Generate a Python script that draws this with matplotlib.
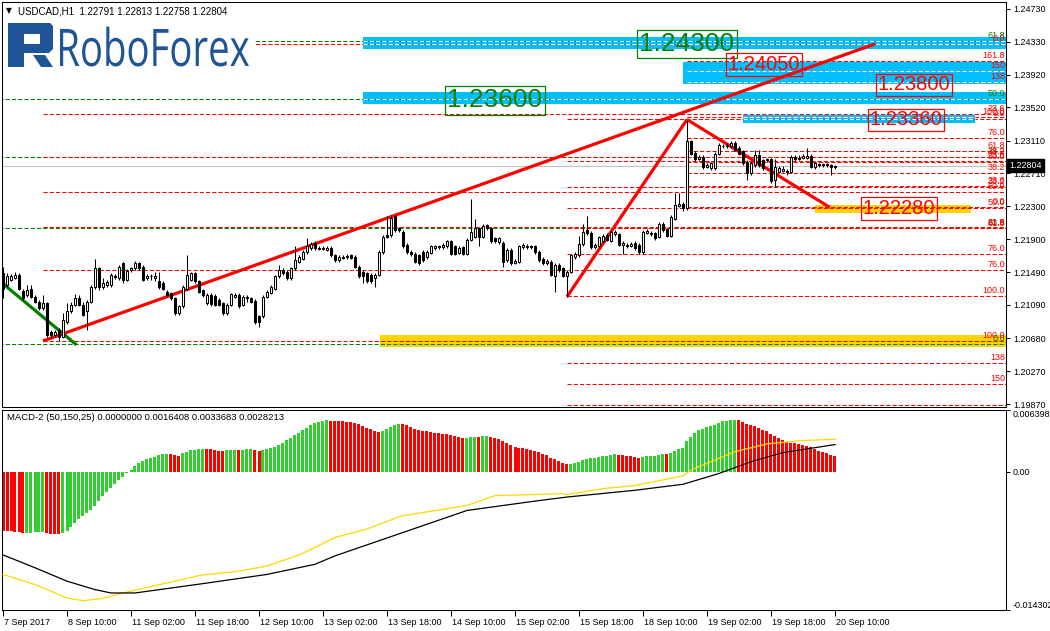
import numpy as np
import matplotlib.pyplot as plt
from matplotlib.patches import Rectangle, Polygon, PathPatch
from matplotlib.textpath import TextPath
from matplotlib.font_manager import FontProperties
from matplotlib.transforms import Affine2D, ScaledTranslation, blended_transform_factory

plt.rcParams['font.family'] = ['Liberation Sans', 'DejaVu Sans']

# USDCAD H1, bar 0 = 7 Sep 2017 18:00
opens = [
    1.2148, 1.2133, 1.2140, 1.2142, 1.2146, 1.2126, 1.2121, 1.2129, 1.2119, 1.2113,
    1.2105, 1.2111, 1.2076, 1.2072, 1.2078, 1.2070, 1.2088, 1.2101, 1.2109, 1.2117,
    1.2109, 1.2101, 1.2113, 1.2131, 1.2154, 1.2131, 1.2133, 1.2133, 1.2144, 1.2142,
    1.2160, 1.2140, 1.2152, 1.2154, 1.2160, 1.2156, 1.2142, 1.2145, 1.2142, 1.2138,
    1.2136, 1.2125, 1.2123, 1.2117, 1.2099, 1.2107, 1.2129, 1.2140, 1.2148, 1.2138,
    1.2127, 1.2111, 1.2121, 1.2120, 1.2115, 1.2111, 1.2099, 1.2109, 1.2119, 1.2121,
    1.2109, 1.2117, 1.2117, 1.2114, 1.2095, 1.2095, 1.2119, 1.2124, 1.2129, 1.2144,
    1.2152, 1.2150, 1.2142, 1.2154, 1.2162, 1.2166, 1.2174, 1.2179, 1.2185, 1.2179,
    1.2178, 1.2177, 1.2179, 1.2170, 1.2164, 1.2168, 1.2168, 1.2170, 1.2168, 1.2156,
    1.2150, 1.2148, 1.2146, 1.2142, 1.2146, 1.2174, 1.2195, 1.2195, 1.2218, 1.2203,
    1.2199, 1.2183, 1.2174, 1.2172, 1.2170, 1.2174, 1.2168, 1.2173, 1.2179, 1.2181,
    1.2180, 1.2181, 1.2187, 1.2181, 1.2173, 1.2180, 1.2172, 1.2189, 1.2193, 1.2203,
    1.2193, 1.2207, 1.2203, 1.2191, 1.2186, 1.2185, 1.2164, 1.2177, 1.2161, 1.2162,
    1.2180, 1.2181, 1.2180, 1.2181, 1.2174, 1.2166, 1.2160, 1.2162, 1.2144, 1.2158,
    1.2154, 1.2145, 1.2150, 1.2168, 1.2170, 1.2184, 1.2201, 1.2198, 1.2180, 1.2181,
    1.2187, 1.2195, 1.2188, 1.2196, 1.2196, 1.2183, 1.2183, 1.2182, 1.2185, 1.2183,
    1.2174, 1.2198, 1.2198, 1.2197, 1.2193, 1.2209, 1.2202, 1.2194, 1.2215, 1.2231,
    1.2233, 1.2228, 1.2310, 1.2296, 1.2289, 1.2291, 1.2279, 1.2277, 1.2277, 1.2295,
    1.2304, 1.2304, 1.2304, 1.2308, 1.2302, 1.2298, 1.2285, 1.2271, 1.2281, 1.2293,
    1.2287, 1.2287, 1.2288, 1.2263, 1.2273, 1.2274, 1.2274, 1.2273, 1.2291, 1.2289,
    1.2290, 1.2290, 1.2292, 1.2278, 1.2282, 1.2281, 1.2282, 1.2281, 1.22791,
]
highs = [
    1.2156, 1.2148, 1.2147, 1.2150, 1.2148, 1.2129, 1.2133, 1.2133, 1.2121, 1.2115,
    1.2121, 1.2113, 1.2078, 1.2078, 1.2080, 1.2099, 1.2111, 1.2113, 1.2122, 1.2121,
    1.2113, 1.2115, 1.2133, 1.2166, 1.2156, 1.2142, 1.2140, 1.2148, 1.2147, 1.2158,
    1.2162, 1.2153, 1.2156, 1.2163, 1.2162, 1.2158, 1.2147, 1.2147, 1.2150, 1.2150,
    1.2138, 1.2127, 1.2125, 1.2119, 1.2109, 1.2133, 1.2170, 1.2150, 1.2150, 1.2140,
    1.2129, 1.2123, 1.2123, 1.2122, 1.2117, 1.2113, 1.2111, 1.2124, 1.2124, 1.2123,
    1.2121, 1.2121, 1.2119, 1.2116, 1.2097, 1.2121, 1.2127, 1.2133, 1.2146, 1.2158,
    1.2154, 1.2152, 1.2156, 1.2181, 1.2170, 1.2176, 1.2191, 1.2186, 1.2187, 1.2181,
    1.2181, 1.2182, 1.2181, 1.2172, 1.2170, 1.2170, 1.2172, 1.2172, 1.2170, 1.2158,
    1.2152, 1.2150, 1.2148, 1.2148, 1.2176, 1.2195, 1.2218, 1.2220, 1.2220, 1.2205,
    1.2201, 1.2185, 1.2176, 1.2174, 1.2172, 1.2176, 1.2176, 1.2183, 1.2183, 1.2183,
    1.2185, 1.2189, 1.2189, 1.2183, 1.2181, 1.2182, 1.2191, 1.2239, 1.2215, 1.2205,
    1.2208, 1.2209, 1.2205, 1.2193, 1.2193, 1.2187, 1.2179, 1.2179, 1.2165, 1.2183,
    1.2185, 1.2184, 1.2183, 1.2183, 1.2176, 1.2168, 1.2165, 1.2164, 1.2160, 1.2160,
    1.2156, 1.2152, 1.2172, 1.2174, 1.2194, 1.2209, 1.2218, 1.2200, 1.2185, 1.2194,
    1.2196, 1.2197, 1.2201, 1.2201, 1.2198, 1.2187, 1.2185, 1.2186, 1.2187, 1.2185,
    1.2201, 1.2202, 1.2200, 1.2199, 1.2211, 1.2211, 1.2204, 1.2219, 1.2246, 1.2246,
    1.2235, 1.2337, 1.2312, 1.2298, 1.2293, 1.2293, 1.2283, 1.2285, 1.2297, 1.2308,
    1.2307, 1.2308, 1.2310, 1.2310, 1.2304, 1.2300, 1.2287, 1.2285, 1.2299, 1.2299,
    1.2289, 1.2290, 1.2290, 1.2289, 1.2280, 1.2280, 1.2276, 1.2293, 1.2293, 1.2293,
    1.2294, 1.2302, 1.2294, 1.2285, 1.2284, 1.2284, 1.2284, 1.2282, 1.22813,
]
lows = [
    1.2117, 1.2131, 1.2138, 1.2141, 1.2127, 1.2115, 1.2119, 1.2117, 1.2111, 1.2103,
    1.2103, 1.2070, 1.2068, 1.2070, 1.2065, 1.2068, 1.2086, 1.2099, 1.2107, 1.2107,
    1.2095, 1.2078, 1.2111, 1.2129, 1.2127, 1.2129, 1.2131, 1.2131, 1.2141, 1.2140,
    1.2136, 1.2138, 1.2150, 1.2152, 1.2152, 1.2138, 1.2140, 1.2140, 1.2138, 1.2129,
    1.2127, 1.2119, 1.2115, 1.2097, 1.2097, 1.2105, 1.2127, 1.2138, 1.2136, 1.2123,
    1.2119, 1.2109, 1.2108, 1.2107, 1.2107, 1.2097, 1.2097, 1.2107, 1.2117, 1.2105,
    1.2107, 1.2113, 1.2111, 1.2086, 1.2082, 1.2093, 1.2117, 1.2122, 1.2127, 1.2142,
    1.2146, 1.2140, 1.2140, 1.2152, 1.2160, 1.2164, 1.2172, 1.2177, 1.2177, 1.2176,
    1.2176, 1.2175, 1.2168, 1.2162, 1.2162, 1.2165, 1.2166, 1.2165, 1.2154, 1.2142,
    1.2136, 1.2136, 1.2136, 1.2131, 1.2144, 1.2172, 1.2191, 1.2193, 1.2199, 1.2199,
    1.2179, 1.2172, 1.2169, 1.2160, 1.2158, 1.2162, 1.2166, 1.2171, 1.2177, 1.2178,
    1.2178, 1.2179, 1.2170, 1.2170, 1.2171, 1.2170, 1.2170, 1.2187, 1.2191, 1.2181,
    1.2191, 1.2201, 1.2185, 1.2185, 1.2184, 1.2156, 1.2162, 1.2158, 1.2159, 1.2160,
    1.2178, 1.2178, 1.2178, 1.2172, 1.2162, 1.2158, 1.2158, 1.2144, 1.2125, 1.2150,
    1.2143, 1.2119, 1.2148, 1.2166, 1.2168, 1.2182, 1.2195, 1.2178, 1.2178, 1.2179,
    1.2185, 1.2187, 1.2186, 1.2194, 1.2181, 1.2172, 1.2179, 1.2180, 1.2177, 1.2172,
    1.2172, 1.2196, 1.2194, 1.2189, 1.2191, 1.2199, 1.2192, 1.2192, 1.2213, 1.2229,
    1.2224, 1.2226, 1.2293, 1.2286, 1.2287, 1.2276, 1.2277, 1.2275, 1.2275, 1.2293,
    1.2302, 1.2302, 1.2302, 1.2298, 1.2293, 1.2281, 1.2263, 1.2269, 1.2279, 1.2279,
    1.2275, 1.2285, 1.2259, 1.2254, 1.2271, 1.2272, 1.2269, 1.2271, 1.2286, 1.2287,
    1.2288, 1.2288, 1.2277, 1.2276, 1.2279, 1.2279, 1.2279, 1.2269, 1.22758,
]
closes = [
    1.2129, 1.2145, 1.2145, 1.2146, 1.2129, 1.2117, 1.2127, 1.2119, 1.2113, 1.2105,
    1.2111, 1.2072, 1.2072, 1.2076, 1.2070, 1.2090, 1.2101, 1.2109, 1.2117, 1.2109,
    1.2097, 1.2113, 1.2131, 1.2154, 1.2131, 1.2136, 1.2137, 1.2146, 1.2143, 1.2156,
    1.2140, 1.2151, 1.2154, 1.2160, 1.2154, 1.2140, 1.2145, 1.2144, 1.2145, 1.2131,
    1.2129, 1.2121, 1.2117, 1.2099, 1.2107, 1.2131, 1.2146, 1.2148, 1.2138, 1.2125,
    1.2121, 1.2121, 1.2110, 1.2109, 1.2109, 1.2099, 1.2109, 1.2122, 1.2121, 1.2107,
    1.2119, 1.2119, 1.2113, 1.2088, 1.2088, 1.2119, 1.2125, 1.2131, 1.2144, 1.2152,
    1.2148, 1.2142, 1.2154, 1.2164, 1.2168, 1.2174, 1.2181, 1.2184, 1.2179, 1.2178,
    1.2179, 1.2179, 1.2170, 1.2164, 1.2168, 1.2167, 1.2169, 1.2167, 1.2156, 1.2144,
    1.2144, 1.2138, 1.2138, 1.2146, 1.2174, 1.2193, 1.2193, 1.2216, 1.2201, 1.2201,
    1.2181, 1.2174, 1.2171, 1.2162, 1.2160, 1.2164, 1.2174, 1.2181, 1.2181, 1.2180,
    1.2183, 1.2187, 1.2172, 1.2172, 1.2179, 1.2172, 1.2189, 1.2199, 1.2203, 1.2193,
    1.2206, 1.2203, 1.2187, 1.2187, 1.2191, 1.2162, 1.2177, 1.2160, 1.2163, 1.2181,
    1.2183, 1.2180, 1.2181, 1.2174, 1.2164, 1.2160, 1.2163, 1.2146, 1.2158, 1.2152,
    1.2145, 1.2150, 1.2170, 1.2172, 1.2184, 1.2199, 1.2197, 1.2180, 1.2183, 1.2192,
    1.2194, 1.2189, 1.2199, 1.2199, 1.2183, 1.2185, 1.2181, 1.2184, 1.2179, 1.2174,
    1.2199, 1.2200, 1.2196, 1.2191, 1.2209, 1.2201, 1.2194, 1.2217, 1.2232, 1.2233,
    1.2228, 1.2310, 1.2295, 1.2288, 1.2291, 1.2278, 1.2281, 1.2283, 1.2295, 1.2306,
    1.2304, 1.2306, 1.2308, 1.2300, 1.2295, 1.2283, 1.2271, 1.2283, 1.2293, 1.2281,
    1.2277, 1.2288, 1.2261, 1.2278, 1.2277, 1.2276, 1.2272, 1.2291, 1.2288, 1.2290,
    1.2292, 1.2292, 1.2279, 1.2283, 1.2281, 1.2282, 1.2281, 1.2279, 1.22804,
]

# MACD-2 histogram, units of 1e-4
macd_hist = [
    -60.95, -61.2, -61.65, -62.0, -62.69, -63.39, -63.04, -62.87, -62.69, -62.52,
    -62.35, -63.39, -64.09, -64.44, -64.78, -63.39, -60.95, -56.77, -52.59, -49.11,
    -45.63, -42.84, -39.36, -35.18, -30.30, -25.43, -21.25, -16.72, -12.19, -8.71,
    -4.88, -1.04, 2.09, 5.92, 9.40, 11.49, 12.89, 14.28, 15.67, 17.07,
    18.11, 18.46, 18.11, 17.07, 16.37, 19.16, 20.90, 22.29, 22.99, 23.34,
    23.51, 23.34, 23.16, 22.64, 21.94, 21.59, 22.29, 22.64, 22.81, 22.29,
    22.99, 23.16, 23.34, 22.64, 21.94, 22.29, 23.34, 24.38, 26.12, 28.21,
    30.30, 32.74, 35.18, 37.62, 40.05, 42.84, 45.28, 48.41, 50.50, 51.90,
    52.94, 53.29, 52.94, 52.77, 52.59, 52.25, 51.90, 51.20, 50.50, 49.46,
    47.72, 45.63, 43.89, 42.14, 41.10, 42.49, 44.23, 46.32, 48.41, 49.81,
    49.50, 48.76, 46.32, 44.58, 43.54, 42.49, 41.80, 41.45, 40.40, 39.71,
    39.36, 39.01, 38.31, 37.27, 36.22, 35.18, 35.35, 35.53, 36.22, 36.05,
    36.92, 37.27, 36.22, 35.18, 34.13, 32.04, 29.95, 27.86, 25.77, 25.08,
    24.73, 23.68, 22.64, 21.59, 20.55, 18.81, 17.42, 14.28, 13.24, 11.15,
    9.06, 8.01, 8.36, 9.40, 10.10, 12.19, 13.24, 13.93, 14.28, 15.33,
    16.02, 16.37, 17.42, 18.46, 17.76, 17.42, 16.72, 16.37, 15.33, 14.28,
    15.33, 16.02, 16.20, 16.37, 17.42, 18.46, 18.11, 19.50, 21.59, 23.68,
    24.73, 32.04, 36.22, 40.40, 43.54, 44.58, 46.67, 47.72, 48.76, 50.85,
    52.59, 52.94, 53.64, 53.99, 53.64, 51.90, 49.81, 48.07, 47.72, 45.63,
    43.54, 42.49, 39.36, 37.27, 35.18, 33.09, 31.35, 30.30, 29.95, 28.91,
    27.86, 26.82, 25.77, 23.68, 21.94, 20.55, 19.50, 17.76, 16.41,
]
# MACD-2 lines, read at a few bars (units of 1e-4)
black_bars = [0, 8, 16, 23, 27, 33, 49.5, 66, 78, 83, 99.5, 116, 133, 141, 158, 170, 179, 187, 195, 208]
black_vals = [-86.0, -99.3, -113.2, -121.9, -125.4, -125.4, -116.0, -106.2, -95.7, -87.0,
              -63.5, -40.0, -30.3, -26.1, -19.1, -12.9, -1.7, 10.5, 19.9, 28.2]
yellow_bars = [0, 8, 16, 20, 24.5, 30, 41, 49.5, 58, 66, 74.5, 83, 91, 99.5, 116, 123,
               139.5, 141, 150, 158, 170, 172, 183, 191, 200, 208]
yellow_vals = [-106.2, -116.7, -130.6, -133.4, -131.3, -125.4, -115.0, -107.0, -103.4, -97.5,
               -85.3, -67.9, -59.2, -45.8, -34.8, -24.7, -22.6, -23.6, -17.4, -14.2,
               -4.2, 1.8, 20.9, 28.9, 32.4, 33.7]

tick_bars = list(range(0, 209, 16))
tick_labels = ['7 Sep 2017', '8 Sep 10:00', '11 Sep 02:00', '11 Sep 18:00', '12 Sep 10:00',
               '13 Sep 02:00', '13 Sep 18:00', '14 Sep 10:00', '15 Sep 02:00', '15 Sep 18:00',
               '18 Sep 10:00', '19 Sep 02:00', '19 Sep 18:00', '20 Sep 10:00']
price_ticks = [1.24730, 1.24330, 1.23920, 1.23520, 1.23110, 1.22710, 1.22300,
               1.21900, 1.21490, 1.21090, 1.20680, 1.20270, 1.19870]

# fibonacci grids: (start bar, price at 0%, price at 100%, colour)
fib_levels = [0.0, 23.6, 38.2, 50.0, 61.8, 76.0, 100.0, 138.0, 150.0, 161.8]
fib_names = ['0.0', '23.6', '38.2', '50.0', '61.8', '76.0', '100.0', '138', '150', '161.8']
fib_sets = [
    (-1, 1.20610, 1.26636, 'green'),
    (10, 1.24300, 1.20646, 'red'),
    (141, 1.23371, 1.21200, 'red'),
    (171, 1.22291, 1.23405, 'red'),
]
# zones: (start bar, end bar, low, high)
blue_zones = [(90, 252, 1.24232, 1.24389), (170, 252, 1.23808, 1.24072),
              (90, 252, 1.23562, 1.23713), (185, 243, 1.23331, 1.23426)]
yellow_zones = [(94.25, 252, 1.20573, 1.20720), (203, 242, 1.22225, 1.22319)]
# trend lines: (bar0, price0, bar1, price1, colour)
trend_lines = [(-0.25, 1.21360, 18.4, 1.20597, 'green'),
               (10, 1.20646, 218, 1.24300, 'red'),
               (141, 1.21190, 171, 1.23370, 'red'),
               (171, 1.23370, 206.75, 1.22288, 'red')]
# price targets: (text, bar, price, colour, font size)
targets = [('1.24300', 171, 1.24300, 'green', 19), ('1.23600', 123, 1.23605, 'green', 19),
           ('1.24050', 190.25, 1.24047, 'red', 14.5), ('1.23800', 227.75, 1.23795, 'red', 14.5),
           ('1.23360', 225.75, 1.23365, 'red', 14.5), ('1.22280', 224, 1.22276, 'red', 14.5)]

W, H = 1050, 631
XLIM = (-0.25, 250.75)
YLIM = (1.198331, 1.248161)
DASH = (0, (4, 2))


def box(l, t, r, b):
    return [l / W, 1 - b / H, (r - l) / W, (b - t) / H]


fig = plt.figure(figsize=(W / 100, H / 100), dpi=100)
ax = fig.add_axes(box(2, 2, 1006, 407))
axm = fig.add_axes(box(2, 410, 1006, 610))

o, hi, lo, c = (np.array(v) for v in (opens, highs, lows, closes))
x = np.arange(len(c))

# zones
for b0, b1, z0, z1 in blue_zones:
    ax.add_patch(Rectangle((b0, z0), b1 - b0, z1 - z0, color='#00BFFF', lw=0, zorder=1))
for b0, b1, z0, z1 in yellow_zones:
    ax.add_patch(Rectangle((b0, z0), b1 - b0, z1 - z0, color='#FFD500', lw=0, zorder=1))

# fibonacci levels
for start, p0, p100, col in fib_sets:
    for lev, name in zip(fib_levels, fib_names):
        p = p0 + (p100 - p0) * lev / 100.0
        ax.hlines(p, start, XLIM[1], colors=col, linestyles=DASH, lw=0.75, zorder=2)
        for b0, b1, z0, z1 in blue_zones:
            if z0 < p < z1:
                ax.hlines(p, max(start, b0), b1, colors='white', linestyles=DASH, lw=0.75, zorder=2.5)
        if YLIM[0] + 0.0004 < p < YLIM[1]:
            ax.text(250.5, p + 0.00012, name, color=col, fontsize=6.5, ha='right', va='bottom', zorder=3)

ax.axhline(c[-1], color='#C0C0C0', lw=0.75, zorder=2)

for b0, p0, b1, p1, col in trend_lines:
    ax.plot([b0, b1], [p0, p1], color=col, lw=2.3, solid_capstyle='butt', zorder=4)

# candles
up = c >= o
ax.vlines(x, lo, hi, color='black', lw=0.75, zorder=5)
body_lo = np.minimum(o, c)
body_h = np.maximum(np.abs(c - o), 0.00002)
ax.bar(x[up], body_h[up], bottom=body_lo[up], width=0.5, color='white',
       edgecolor='black', lw=0.75, zorder=6)
ax.bar(x[~up], body_h[~up], bottom=body_lo[~up], width=0.5, color='black',
       edgecolor='black', lw=0.75, zorder=6)

for txt, b, p, col, fs in targets:
    ax.text(b, p, txt, color=col, fontsize=fs, ha='center', va='center', zorder=8,
            bbox=dict(boxstyle='square,pad=0.08', fc='none', ec=col, lw=0.9))

ax.set_xlim(*XLIM)
ax.set_ylim(*YLIM)
ax.set_xticks([])
ax.yaxis.tick_right()
ax.set_yticks(price_ticks, labels=[f'{v:.5f}' for v in price_ticks])
ax.tick_params(axis='y', length=3, width=0.75, labelsize=6.5, pad=2)

tr = blended_transform_factory(ax.transAxes, ax.transData)
ax.text(1.0035, c[-1], f'{c[-1]:.5f}', transform=tr, color='white', fontsize=6.5,
        ha='left', va='center', zorder=10, clip_on=False,
        bbox=dict(boxstyle='square,pad=0.25', fc='black', ec='black'))

# MACD panel
hist = np.array(macd_hist) * 1e-4
rising = np.r_[False, np.diff(hist) > 0]
axm.bar(x, hist, width=0.75, color=np.where(rising, '#32CD32', '#FF0000'), lw=0, zorder=2)
axm.plot(np.array(yellow_bars), np.array(yellow_vals) * 1e-4, color='#FFD700', lw=0.9, zorder=3)
axm.plot(np.array(black_bars), np.array(black_vals) * 1e-4, color='black', lw=0.9, zorder=3)
axm.set_xlim(*XLIM)
axm.set_ylim(-0.014302, 0.006398)
axm.yaxis.tick_right()
axm.set_yticks([0.006398, 0.0, -0.014302], labels=['0.006398', '0.00', '-0.014302'])
axm.tick_params(axis='y', length=3, width=0.75, labelsize=6.5, pad=2)
ylab = axm.get_yticklabels()
ylab[0].set_va('top')
ylab[2].set_va('bottom')
axm.set_xticks(tick_bars, labels=tick_labels)
axm.tick_params(axis='x', length=4, width=0.75, labelsize=6.5, pad=2)
shift = ScaledTranslation(1 / 100, 0, fig.dpi_scale_trans)
for lbl in axm.get_xticklabels():
    lbl.set_ha('left')
    lbl.set_transform(lbl.get_transform() + shift)

for a in (ax, axm):
    for s in a.spines.values():
        s.set_linewidth(0.75)
        s.set_color('black')

# overlay in pixel units for the header, indicator name and logo
ov = fig.add_axes([0, 0, 1, 1])
ov.set_xlim(0, W)
ov.set_ylim(H, 0)
ov.axis('off')
ov.patch.set_alpha(0)
ov.text(6, 11, '\u25BC', fontsize=5.5, family='DejaVu Sans', ha='left', va='center')
ov.text(18, 11, 'USDCAD,H1  1.22791 1.22813 1.22758 1.22804', fontsize=7, ha='left', va='center')
ov.text(7, 418, 'MACD-2 (50,150,25) 0.0000000 0.0016408 0.0033683 0.0028213',
        fontsize=6.8, ha='left', va='center')

logo_col = '#1F5597'
ov.add_patch(Rectangle((3, 20), 252, 49, color='white', lw=0, zorder=1))
ov.add_patch(Polygon([(8, 23), (50, 23), (53, 26), (53, 49), (49, 53), (8, 53)],
                     closed=True, color=logo_col, lw=0, zorder=2))
ov.add_patch(Rectangle((24, 34), 16, 10, color='white', lw=0, zorder=3))
ov.add_patch(Rectangle((8, 53), 16, 14, color=logo_col, lw=0, zorder=2))
ov.add_patch(Polygon([(33, 55), (45, 55), (53, 67), (41, 67)], closed=True,
                     color=logo_col, lw=0, zorder=2))
fp = FontProperties(family='Open Sans')
tp = TextPath((0, 0), 'RoboForex', size=100, prop=fp)
cap = TextPath((0, 0), 'R', size=100, prop=fp).get_extents().height
ext = tp.get_extents()
sx = (249 - 60) / ext.width
sy = (66 - 29) / cap
trans = Affine2D().translate(-ext.x0, 0).scale(sx, -sy).translate(60, 66)
ov.add_patch(PathPatch(trans.transform_path(tp), color=logo_col, lw=0, zorder=3))

fig.savefig('out.png', dpi=100)
